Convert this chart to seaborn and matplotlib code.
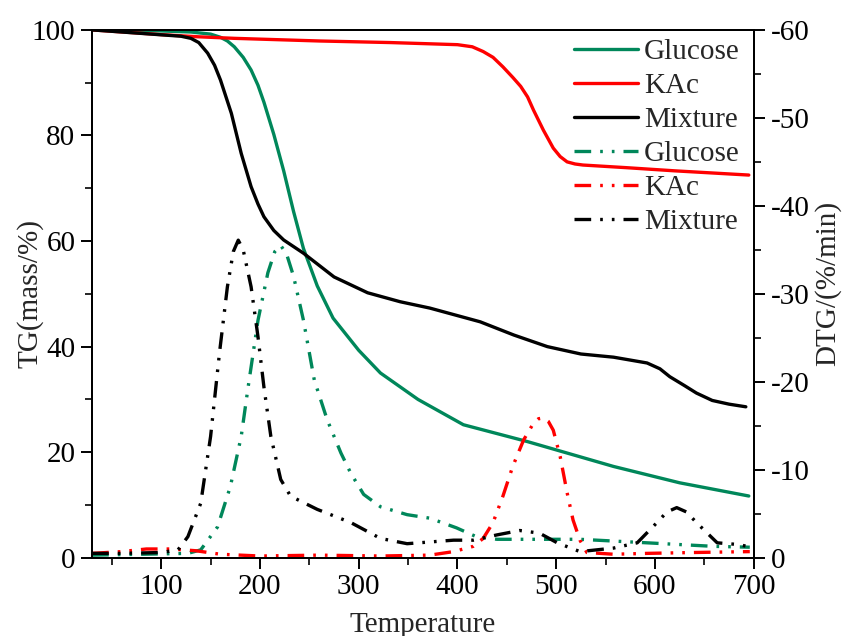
import matplotlib
matplotlib.use("Agg")
import matplotlib.pyplot as plt
import seaborn as sns
import pandas as pd
from matplotlib.ticker import MultipleLocator

# ---------------- data ----------------
tg_glu_T = [30, 60, 100, 130, 150, 160, 167, 174, 183, 191, 198, 204, 214, 224, 234, 244, 258, 274, 300, 322, 360, 406, 471, 558, 625, 695]
tg_glu = [100, 99.9, 99.8, 99.6, 99.2, 98.6, 97.9, 96.8, 94.8, 92.4, 89.5, 86.3, 80.2, 73.3, 65.6, 58.6, 51.5, 45.4, 39.3, 35, 30, 25.2, 22, 17.3, 14.2, 11.7]

tg_kac_T = [30, 69, 100, 137, 174, 260, 332, 400, 415, 426, 436, 446, 456, 464, 471, 477, 487, 497, 504, 511, 519, 527, 571, 620, 695]
tg_kac = [100, 99.5, 99.1, 98.7, 98.4, 97.9, 97.6, 97.2, 96.8, 95.9, 94.8, 93.0, 91.0, 89.3, 87.3, 84.8, 81.0, 77.6, 76.0, 75.0, 74.6, 74.4, 73.9, 73.3, 72.5]

tg_mix_T = [30, 60, 90, 120, 130, 138, 147, 154, 160, 171, 181, 191, 198, 204, 214, 224, 244, 275, 309, 342, 372, 423, 457, 491, 525, 558, 592, 605, 615, 630, 642, 658, 675, 692]
tg_mix = [100, 99.6, 99.2, 98.8, 98.4, 97.6, 95.6, 93.3, 90.5, 84.2, 76.6, 70.3, 67.0, 64.6, 62.0, 60.2, 57.7, 53.2, 50.2, 48.5, 47.3, 44.7, 42.2, 40, 38.6, 38, 36.9, 35.8, 34.3, 32.6, 31.2, 29.8, 29.1, 28.6]

dtg_glu_T = [30, 80, 127, 140, 157, 170, 181, 188, 198, 208, 215, 221, 227, 234, 244, 255, 268, 282, 292, 305, 322, 349, 372, 399, 419, 440, 524, 592, 659, 696]
dtg_glu = [-0.3, -0.4, -0.5, -0.9, -3.5, -8.1, -13.8, -19.4, -27, -32.4, -34.8, -35.5, -34.5, -32, -27, -20.2, -15.7, -11.9, -9.6, -7.2, -5.8, -4.9, -4.5, -3.4, -2.4, -2.1, -2.1, -1.7, -1.3, -1.2]

dtg_kac_T = [30, 60, 85, 110, 135, 160, 200, 260, 322, 372, 396, 416, 426, 436, 446, 456, 467, 477, 482, 487, 492, 497, 504, 511, 517, 524, 531, 558, 592, 640, 696]
dtg_kac = [-0.5, -0.7, -1.0, -1.0, -0.8, -0.4, -0.2, -0.3, -0.2, -0.3, -0.7, -1.3, -2.2, -4.0, -7.0, -10.4, -13.4, -15.3, -15.8, -15.9, -15.5, -14.5, -11.5, -7.4, -4.3, -2.0, -0.6, -0.4, -0.5, -0.6, -0.7]

dtg_mix_T = [30, 60, 100, 117, 127, 140, 150, 159, 167, 173, 178, 183, 191, 198, 204, 211, 221, 231, 258, 292, 322, 349, 396, 416, 440, 463, 483, 501, 524, 558, 582, 602, 612, 622, 632, 642, 663, 685, 697]
dtg_mix = [-0.5, -0.5, -0.6, -0.9, -2.4, -6.2, -13.8, -23.3, -30.8, -34.8, -36.1, -35, -30.8, -25.1, -19.4, -13.8, -8.9, -7, -5.5, -4, -2.2, -1.6, -2.0, -2.0, -2.6, -3.1, -2.8, -1.7, -0.7, -1.1, -1.7, -4, -5.2, -5.7, -5.2, -4, -1.7, -1.5, -1.2]

names = ["Glucose", "KAc", "Mixture"]
# --------------------------------------

sns.set_theme(style="ticks")
plt.rcParams["font.family"] = ["Liberation Serif", "DejaVu Serif"]
plt.rcParams["axes.unicode_minus"] = False

GREEN = "#00875A"
RED = "#FF0000"
BLACK = "#000000"
colors = [GREEN, RED, BLACK]

fig = plt.figure(figsize=(8.45, 6.36), dpi=100)
ax = fig.add_axes([0.109, 0.123, 0.783, 0.830])
ax2 = ax.twinx()

lw = 2.4
handles = []
tg_sets = [(tg_glu_T, tg_glu), (tg_kac_T, tg_kac), (tg_mix_T, tg_mix)]
for (tx, ty), c, n in zip(tg_sets, colors, names):
    df = pd.DataFrame({"T": tx, "v": ty})
    sns.lineplot(data=df, x="T", y="v", ax=ax, color=c, lw=lw, legend=False,
                 estimator=None, sort=False)
    ln = ax.get_lines()[-1]
    ln.set_label(n)
    ln.set_solid_joinstyle("round")
    handles.append(ln)

dtg_sets = [(dtg_glu_T, dtg_glu), (dtg_kac_T, dtg_kac), (dtg_mix_T, dtg_mix)]
for (tx, ty), c, n in zip(dtg_sets, colors, names):
    df = pd.DataFrame({"T": tx, "v": ty})
    sns.lineplot(data=df, x="T", y="v", ax=ax2, color=c, lw=lw, legend=False,
                 estimator=None, sort=False)
    ln = ax2.get_lines()[-1]
    ln.set_dashes([5, 2.7, 0.8, 2.7, 0.8, 2.7])
    ln.set_label(n)
    handles.append(ln)

ax.set_xlim(30, 700)
ax.set_ylim(0, 100)
ax2.set_ylim(0, -60)

ax.xaxis.set_major_locator(MultipleLocator(100))
ax.xaxis.set_minor_locator(MultipleLocator(50))
ax.yaxis.set_major_locator(MultipleLocator(20))
ax.yaxis.set_minor_locator(MultipleLocator(10))
ax2.yaxis.set_major_locator(MultipleLocator(10))
ax2.yaxis.set_minor_locator(MultipleLocator(5))

fs = 21
for a in (ax, ax2):
    a.tick_params(axis="both", which="major", direction="out", length=8, width=1.4,
                  labelsize=fs, colors="black", pad=4)
    a.tick_params(axis="both", which="minor", direction="out", length=5, width=1.4)
    for s in a.spines.values():
        s.set_linewidth(1.4)
        s.set_color("black")
        s.set_visible(True)

ax.set_xticks([100, 200, 300, 400, 500, 600, 700])
ax.set_xlabel("Temperature", fontsize=fs, labelpad=8)
ax.set_ylabel("TG(mass/%)", fontsize=fs)
ax.yaxis.set_label_coords(-0.074, 0.5)
ax2.set_ylabel("DTG/(%/min)", fontsize=fs)
ax2.yaxis.set_label_coords(1.092, 0.52)

ax.grid(False)
ax2.grid(False)

leg = ax2.legend(handles=handles, loc="upper right", bbox_to_anchor=(1.005, 1.017),
                 frameon=False, fontsize=fs, handlelength=2.2, labelspacing=0.26,
                 handletextpad=0.2, borderaxespad=0.2)

fig.savefig("out.png", dpi=100)
